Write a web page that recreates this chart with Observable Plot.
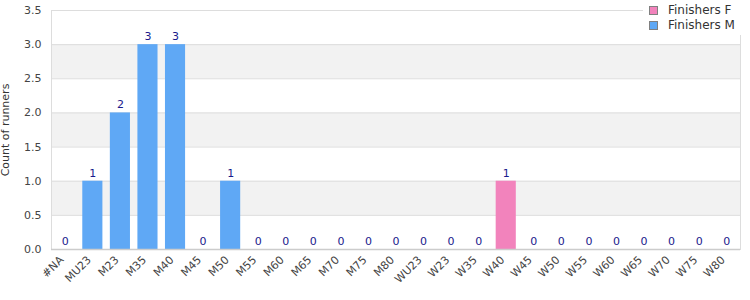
<!DOCTYPE html>
<html>
<head>
<meta charset="utf-8">
<script src="https://cdn.jsdelivr.net/npm/d3@7"></script>
<script src="https://cdn.jsdelivr.net/npm/@observablehq/plot@0.6"></script>
<style>
  html, body { margin: 0; padding: 0; background: #fff; }
  #wrap { position: relative; width: 750px; height: 300px; font-family: "DejaVu Sans", sans-serif; }
  #legend { position: absolute; left: 643px; top: 1px; background: #fff; padding: 2px 6px 2px 6px; font-size: 12px; color: #333; line-height: 15px; }
  #legend .item { display: flex; align-items: center; white-space: nowrap; }
  #legend .sw { width: 7px; height: 7px; border: 1px solid #808080; margin-right: 10px; display: inline-block; }
</style>
</head>
<body>
<div id="wrap"></div>
<script>
const categories = ["#NA","MU23","M23","M35","M40","M45","M50","M55","M60","M65","M70","M75","M80","WU23","W23","W35","W40","W45","W50","W55","W60","W65","W70","W75","W80"];
const finishersF = [0,0,0,0,0,0,0,0,0,0,0,0,0,0,0,0,1,0,0,0,0,0,0,0,0];
const finishersM = [0,1,2,3,3,0,1,0,0,0,0,0,0,0,0,0,0,0,0,0,0,0,0,0,0];
const seriesNames = ["Finishers F", "Finishers M"];
const seriesColors = ["#f283bc", "#5fa8f5"];
const yTicks = [0, 0.5, 1, 1.5, 2, 2.5, 3, 3.5];
const yTitle = "Count of runners";

const rows = [];
categories.forEach((c, i) => {
  rows.push({cat: c, series: seriesNames[0], value: finishersF[i]});
  rows.push({cat: c, series: seriesNames[1], value: finishersM[i]});
});
const totals = categories.map((c, i) => ({cat: c, value: finishersF[i] + finishersM[i]}));
const bands = [];
for (let i = 1; i < yTicks.length; i += 2) bands.push({y1: yTicks[i], y2: yTicks[i + 1]});

const chart = Plot.plot({
  width: 750,
  height: 300,
  marginLeft: 51,
  marginRight: 10,
  marginTop: 10,
  marginBottom: 51,
  style: {fontFamily: "DejaVu Sans, sans-serif", fontSize: "11px", color: "#444", background: "#fff"},
  x: {domain: categories, paddingInner: 0.27, paddingOuter: 0.135, round: false, label: null, axis: null},
  y: {domain: [0, 3.5], label: null, ticks: yTicks, tickFormat: d3.format(".1f"), tickSize: 0, tickPadding: 10},
  color: {domain: seriesNames, range: seriesColors},
  marks: [
    Plot.rect(bands, {y1: "y1", y2: "y2", fill: "#f2f2f2"}),
    Plot.ruleY(yTicks, {stroke: "#dddddd", strokeWidth: 1}),
    Plot.frame({stroke: "#dddddd"}),
    Plot.barY(rows, {x: "cat", y: "value", fill: "series"}),
    Plot.text(totals, {x: "cat", y: "value", text: d => String(d.value), dy: -8, fill: "#1a1a8c", fontSize: 11}),
    Plot.ruleY([0], {stroke: "#cccccc", strokeWidth: 1.5})
  ]
});

const wrap = document.getElementById("wrap");
wrap.appendChild(chart);

// rotated x tick labels placed with Plot's own x scale, laid along 45° paths
const svg = d3.select(chart);
const xs = chart.scale("x");
const defs = svg.append("defs");
const g = svg.append("g").attr("font-size", 11).attr("fill", "#444").attr("text-anchor", "end");
categories.forEach((c, i) => {
  const x = xs.apply(c) + xs.bandwidth / 2 - 3;
  const y = 258;
  const L = 60;
  const id = "xlabel" + i;
  defs.append("path").attr("id", id)
    .attr("d", `M${x - L * Math.SQRT1_2},${y + L * Math.SQRT1_2}L${x},${y}`);
  g.append("text").attr("dy", "0.32em").append("textPath")
    .attr("href", "#" + id).attr("startOffset", "100%").text(c);
});

svg.append("text")
  .attr("transform", "translate(6,130) rotate(-90)")
  .attr("text-anchor", "middle")
  .attr("dominant-baseline", "middle")
  .attr("fill", "#333")
  .attr("font-size", 11)
  .text(yTitle);

const legend = document.createElement("div");
legend.id = "legend";
seriesNames.forEach((n, i) => {
  const it = document.createElement("div");
  it.className = "item";
  const sw = document.createElement("span");
  sw.className = "sw";
  sw.style.background = seriesColors[i];
  it.appendChild(sw);
  it.appendChild(document.createTextNode(n));
  legend.appendChild(it);
});
wrap.appendChild(legend);
</script>
</body>
</html>
